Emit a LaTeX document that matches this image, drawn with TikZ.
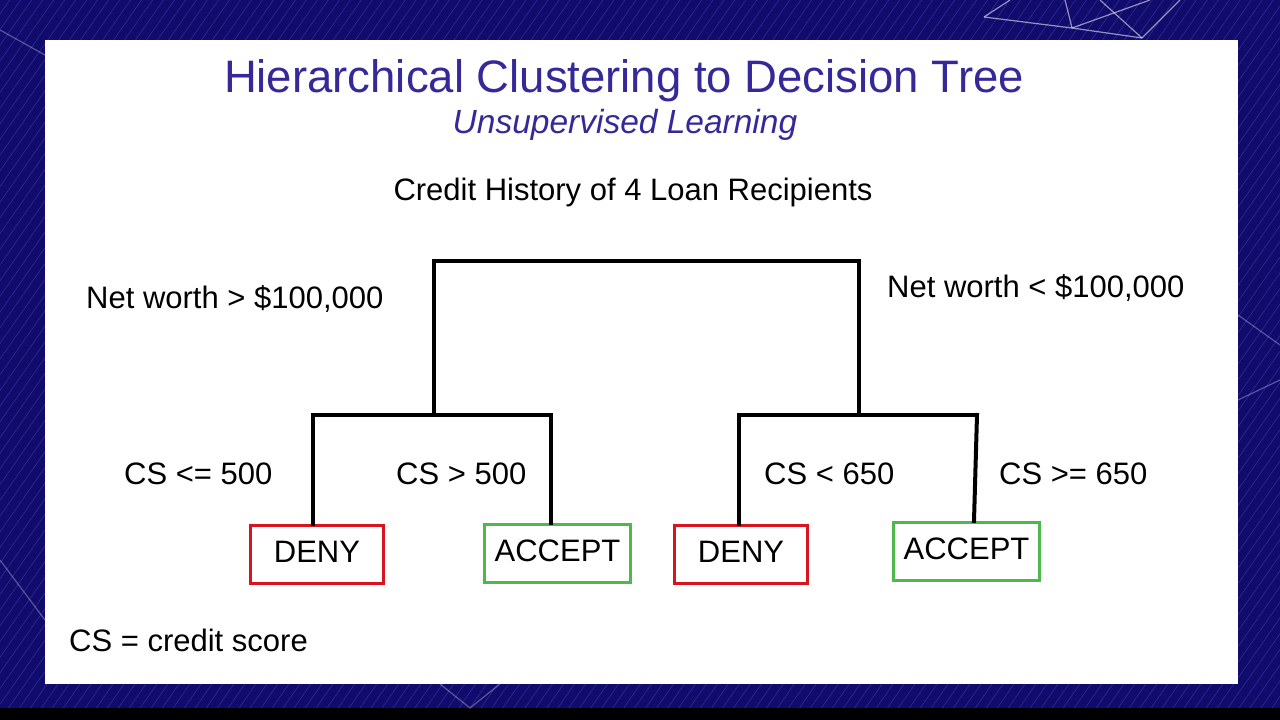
\documentclass[tikz,border=0pt]{standalone}
\usepackage{fontspec}
\setmainfont{Liberation Sans}
\usetikzlibrary{patterns.meta}
\definecolor{navy}{HTML}{110B6C}
\definecolor{hatch}{HTML}{3030A0}
\definecolor{titlecol}{HTML}{35299A}
\definecolor{denyred}{HTML}{D8141E}
\definecolor{acceptgreen}{HTML}{4DB94D}
\tikzset{
  branch/.style={line width=4pt, line cap=rect},
  lbl/.style={anchor=base west, inner sep=0pt, font=\fontsize{31}{31}\selectfont},
  leafbox/.style={draw, line width=3pt, minimum height=58pt, inner sep=0pt, font=\fontsize{31}{31}\selectfont, anchor=north west},
  deny/.style={leafbox, draw=denyred, minimum width=133pt},
  accept/.style={leafbox, draw=acceptgreen, minimum width=146pt},
  netline/.style={white, opacity=0.55, line width=1.2pt}
}
\begin{document}
\begin{tikzpicture}[x=1pt,y=-1pt]
\useasboundingbox (0,0) rectangle (1280,720);
% background
\fill[navy] (0,0) rectangle (1280,720);
\fill[pattern={Lines[angle=55,distance=9pt,line width=0.5pt]}, pattern color=hatch] (0,0) rectangle (1280,708);
\fill[black] (0,708) rectangle (1280,720);
% faint network lines
\draw[netline] (984,17) -- (1072,28) -- (1142,38);
\draw[netline] (984,17) -- (1010,0);
\draw[netline] (1072,28) -- (1065,0);
\draw[netline] (1072,28) -- (1150,0);
\draw[netline] (1142,38) -- (1180,0);
\draw[netline] (1142,38) -- (1100,0);
\draw[netline, opacity=0.3] (1238,315) -- (1280,345);
\draw[netline, opacity=0.3] (1238,400) -- (1280,380);
\draw[netline, opacity=0.3] (0,560) -- (45,620);
\draw[netline, opacity=0.3] (0,30) -- (45,55);
\draw[netline, opacity=0.3] (440,684) -- (470,708) -- (500,684);
% slide
\fill[white] (45,40) rectangle (1238,684);
% titles
\node[anchor=base, inner sep=0pt, text=titlecol, font=\fontsize{45.5}{45.5}\selectfont] (title) at (624,92) {Hierarchical Clustering to Decision Tree};
\node[anchor=base, inner sep=0pt, text=titlecol, font=\fontsize{33.5}{33.5}\selectfont\itshape] (subtitle) at (625,133) {Unsupervised Learning};
\node[anchor=base, inner sep=0pt, font=\fontsize{31}{31}\selectfont] (heading) at (633,200) {Credit History of 4 Loan Recipients};
% labels
\node[lbl] (nwgt) at (86,308) {Net worth > \$100,000};
\node[lbl] (nwlt) at (887,297) {Net worth < \$100,000};
\node[lbl] (cs1) at (124,484) {CS <= 500};
\node[lbl] (cs2) at (396,484) {CS > 500};
\node[lbl] (cs3) at (764,484) {CS < 650};
\node[lbl] (cs4) at (999,484) {CS >= 650};
\node[lbl] (legend) at (69,651) {CS = credit score};
% leaves
\node[deny] (d1) at (249,524) {\raisebox{5pt}{DENY}};
\node[accept] (a1) at (483,523) {\raisebox{6pt}{ACCEPT}};
\node[deny] (d2) at (673,524) {\raisebox{5pt}{DENY}};
\node[accept] (a2) at (892,521) {\raisebox{6pt}{ACCEPT}};
% tree junctions
\coordinate (tl) at (434,261);
\coordinate (tr) at (859,261);
\coordinate (ml) at (434,415);
\coordinate (mr) at (859,415);
\coordinate (l1) at (313,415);
\coordinate (l2) at (551,415);
\coordinate (r1) at (739,415);
\coordinate (r2) at (977,415);
\draw[branch] (ml) -- (tl) -- (tr) -- (mr);
\draw[branch] (l1) -- (l2);
\draw[branch] (r1) -- (r2);
\draw[branch] (l1) -- (l1 |- d1.north);
\draw[branch] (l2) -- (l2 |- a1.north);
\draw[branch] (r1) -- (r1 |- d2.north);
\draw[branch] (r2) -- ([xshift=-3pt]r2 |- a2.north);
\end{tikzpicture}
\end{document}
